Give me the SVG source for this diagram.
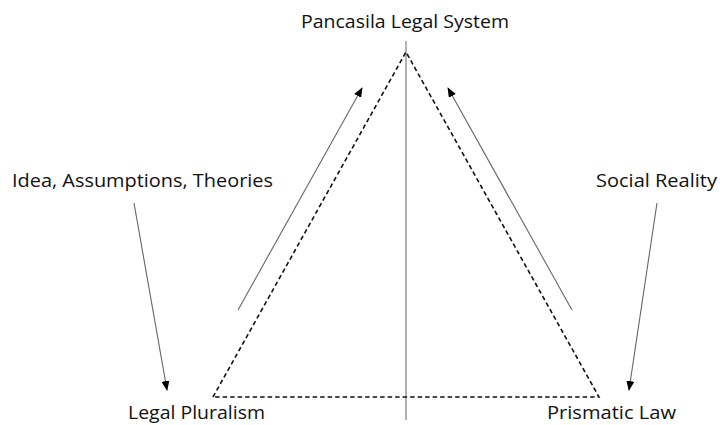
<svg xmlns="http://www.w3.org/2000/svg" width="720" height="425" viewBox="0 0 720 425">
<style>
text{font-family:"Open Sans","Noto Sans",sans-serif;font-size:19px;fill:#111}
.dash{stroke:#111;stroke-width:1.6;stroke-dasharray:4.5 3;fill:none}
.arr{stroke:#666;stroke-width:1.1;fill:none;marker-end:url(#ah)}
</style>
<defs>
<marker id="ah" markerWidth="10" markerHeight="8" refX="9" refY="4" orient="auto" markerUnits="userSpaceOnUse">
<path d="M0,0 L10,4 L0,8 Z" fill="#000"/>
</marker>
</defs>
<rect width="720" height="425" fill="#fff"/>
<g id="connectors">
<line x1="406" y1="41" x2="406" y2="420" stroke="#999" stroke-width="1.5"/>
<path class="dash" d="M213,397 L406,52 L599,397 Z"/>
<line class="arr" x1="238" y1="310" x2="362" y2="88"/>
<line class="arr" x1="572" y1="310" x2="448" y2="88"/>
<line class="arr" x1="134" y1="203" x2="167" y2="390"/>
<line class="arr" x1="657" y1="203" x2="629" y2="390"/>
</g>
<g id="pancasila"><text x="301" y="28" textLength="208" lengthAdjust="spacingAndGlyphs">Pancasila Legal System</text></g>
<g id="idea"><text x="12" y="187" textLength="261" lengthAdjust="spacingAndGlyphs">Idea, Assumptions, Theories</text></g>
<g id="social"><text x="596" y="187" textLength="121" lengthAdjust="spacingAndGlyphs">Social Reality</text></g>
<g id="legal-pluralism"><text x="128" y="419" textLength="137" lengthAdjust="spacingAndGlyphs">Legal Pluralism</text></g>
<g id="prismatic"><text x="547" y="419" textLength="129" lengthAdjust="spacingAndGlyphs">Prismatic Law</text></g>
</svg>
